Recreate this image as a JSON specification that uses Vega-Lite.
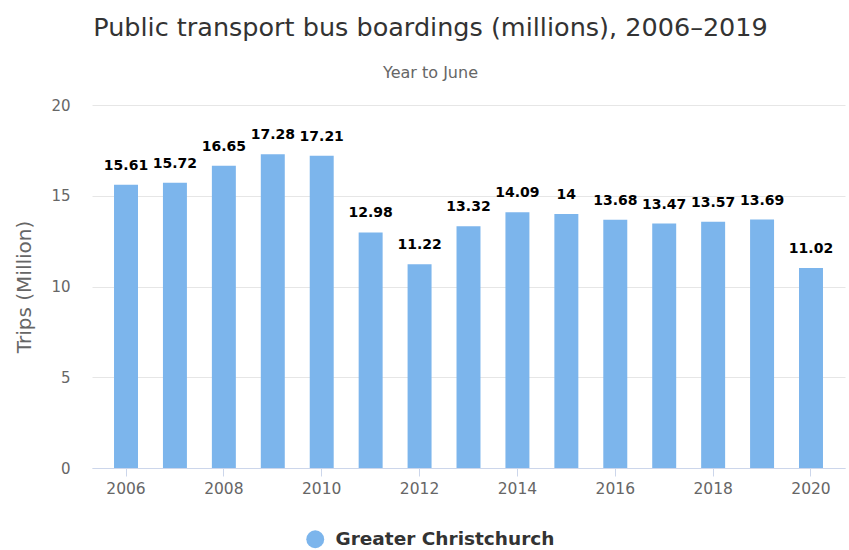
{
  "$schema": "https://vega.github.io/schema/vega-lite/v6.json",
  "autosize": {"type": "none"},
  "padding": {"left": 92, "top": 105, "right": 4, "bottom": 82},
  "width": 753,
  "height": 363,
  "background": "white",
  "config": {
    "font": "DejaVu Sans",
    "view": {"stroke": null}
  },
  "title": {
    "text": "Public transport bus boardings (millions), 2006–2019",
    "subtitle": "Year to June",
    "anchor": "middle",
    "frame": "group",
    "dx": -38,
    "offset": 17,
    "font": "DejaVu Sans",
    "fontSize": 25.5,
    "fontWeight": "normal",
    "color": "#333333",
    "subtitleFont": "DejaVu Sans",
    "subtitleFontSize": 16,
    "subtitleColor": "#666666",
    "subtitlePadding": 24
  },
  "data": {
    "values": [
      {"year": 2006, "trips": 15.61, "series": "Greater Christchurch"},
      {"year": 2007, "trips": 15.72, "series": "Greater Christchurch"},
      {"year": 2008, "trips": 16.65, "series": "Greater Christchurch"},
      {"year": 2009, "trips": 17.28, "series": "Greater Christchurch"},
      {"year": 2010, "trips": 17.21, "series": "Greater Christchurch"},
      {"year": 2011, "trips": 12.98, "series": "Greater Christchurch"},
      {"year": 2012, "trips": 11.22, "series": "Greater Christchurch"},
      {"year": 2013, "trips": 13.32, "series": "Greater Christchurch"},
      {"year": 2014, "trips": 14.09, "series": "Greater Christchurch"},
      {"year": 2015, "trips": 14, "series": "Greater Christchurch"},
      {"year": 2016, "trips": 13.68, "series": "Greater Christchurch"},
      {"year": 2017, "trips": 13.47, "series": "Greater Christchurch"},
      {"year": 2018, "trips": 13.57, "series": "Greater Christchurch"},
      {"year": 2019, "trips": 13.69, "series": "Greater Christchurch"},
      {"year": 2020, "trips": 11.02, "series": "Greater Christchurch"}
    ]
  },
  "encoding": {
    "x": {
      "field": "year",
      "type": "ordinal",
      "scale": {"paddingInner": 0.51, "paddingOuter": 0.45},
      "axis": {
        "title": null,
        "values": [2006, 2008, 2010, 2012, 2014, 2016, 2018, 2020],
        "labelAngle": 0,
        "labelFont": "DejaVu Sans",
        "labelFontSize": 15.5,
        "labelColor": "#666666",
        "labelPadding": 5,
        "domainColor": "#ccd6eb",
        "tickColor": "#ccd6eb",
        "tickSize": 8,
        "grid": false
      }
    },
    "y": {
      "field": "trips",
      "type": "quantitative",
      "scale": {"domain": [0, 20], "nice": false},
      "axis": {
        "title": "Trips (Million)",
        "titleFont": "DejaVu Sans",
        "titleFontSize": 20,
        "titleFontWeight": "normal",
        "titleColor": "#666666",
        "titlePadding": 16,
        "values": [0, 5, 10, 15, 20],
        "labelFont": "DejaVu Sans",
        "labelFontSize": 15,
        "labelColor": "#666666",
        "labelPadding": 22,
        "ticks": false,
        "domain": false,
        "gridColor": "#e6e6e6"
      }
    }
  },
  "layer": [
    {
      "mark": {"type": "bar", "color": "#7cb5ec"},
      "encoding": {
        "color": {
          "field": "series",
          "type": "nominal",
          "scale": {"range": ["#7cb5ec"]},
          "legend": {
            "title": null,
            "orient": "none",
            "legendX": 214,
            "legendY": 425,
            "symbolType": "circle",
            "symbolSize": 320,
            "symbolStrokeWidth": 0,
            "labelFont": "DejaVu Sans",
            "labelFontSize": 18.5,
            "labelFontWeight": "bold",
            "labelColor": "#333333",
            "labelOffset": 11,
            "labelLimit": 400
          }
        }
      }
    },
    {
      "mark": {"type": "text", "dy": -19, "fontWeight": "bold", "fontSize": 14, "font": "DejaVu Sans", "color": "#000000"},
      "encoding": {
        "text": {"field": "trips", "type": "quantitative"}
      }
    }
  ]
}
